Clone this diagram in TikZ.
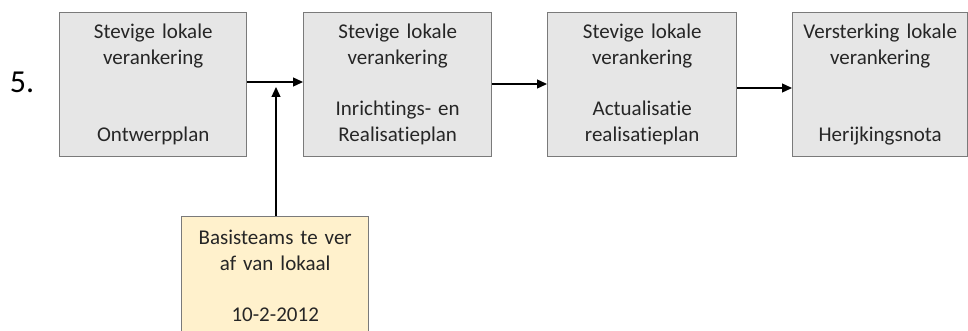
\documentclass[tikz,border=0pt]{standalone}
\usepackage{fontspec}
\setmainfont{Carlito}[Ligatures=NoCommon]
\usetikzlibrary{arrows.meta}
\definecolor{boxgray}{HTML}{E6E6E6}
\definecolor{bordergray}{HTML}{7A7A7A}
\definecolor{yelfill}{HTML}{FFF1CC}
\definecolor{textcol}{HTML}{262626}
\newcommand\boxfont{\fontsize{21}{25.7}\selectfont}
\tikzset{
  box/.style={draw=bordergray, fill=boxgray, line width=1.4pt, minimum height=144pt,
    text width=178pt, align=center, font=\boxfont, text=textcol, inner sep=0pt,
    anchor=north west},
  conn/.style={line width=1.3pt, -{Triangle[length=10pt,width=9pt]}},
}
\begin{document}
\begin{tikzpicture}[x=1pt,y=1pt]
\useasboundingbox (0,0) rectangle (968,-331);
\node[font=\fontsize{32}{36}\selectfont, text=black] (num) at (22,-82) {5.};
\node[box, minimum width=187pt] (b1) at (59,-12)
  {Stevige lokale\\verankering\\[51.4pt]Ontwerpplan};
\node[box, minimum width=188pt] (b2) at (303,-12)
  {Stevige lokale\\verankering\\[25.7pt]Inrichtings- en\\Realisatieplan};
\node[box, minimum width=189pt] (b3) at (547,-12)
  {Stevige lokale\\verankering\\[25.7pt]Actualisatie\\realisatieplan};
\node[box, minimum width=175pt, text width=172pt] (b4) at (792,-12)
  {Versterking lokale\\verankering\\[51.4pt]Herijkingsnota};
\node[box, fill=yelfill, minimum width=187pt] (y) at (181,-216)
  {Basisteams te ver\\af van lokaal\\[25.7pt]10-2-2012\\\mbox{}};
\coordinate (a1) at (0,-82);
\coordinate (a2) at (0,-84);
\coordinate (a3) at (0,-88);
\coordinate (t) at (276,-87);
\draw[conn] (b1.east |- a1) -- (b2.west |- a1);
\draw[conn] (b2.east |- a2) -- (b3.west |- a2);
\draw[conn] (b3.east |- a3) -- (b4.west |- a3);
\draw[conn] (y.north -| t) -- (t);
\end{tikzpicture}
\end{document}
